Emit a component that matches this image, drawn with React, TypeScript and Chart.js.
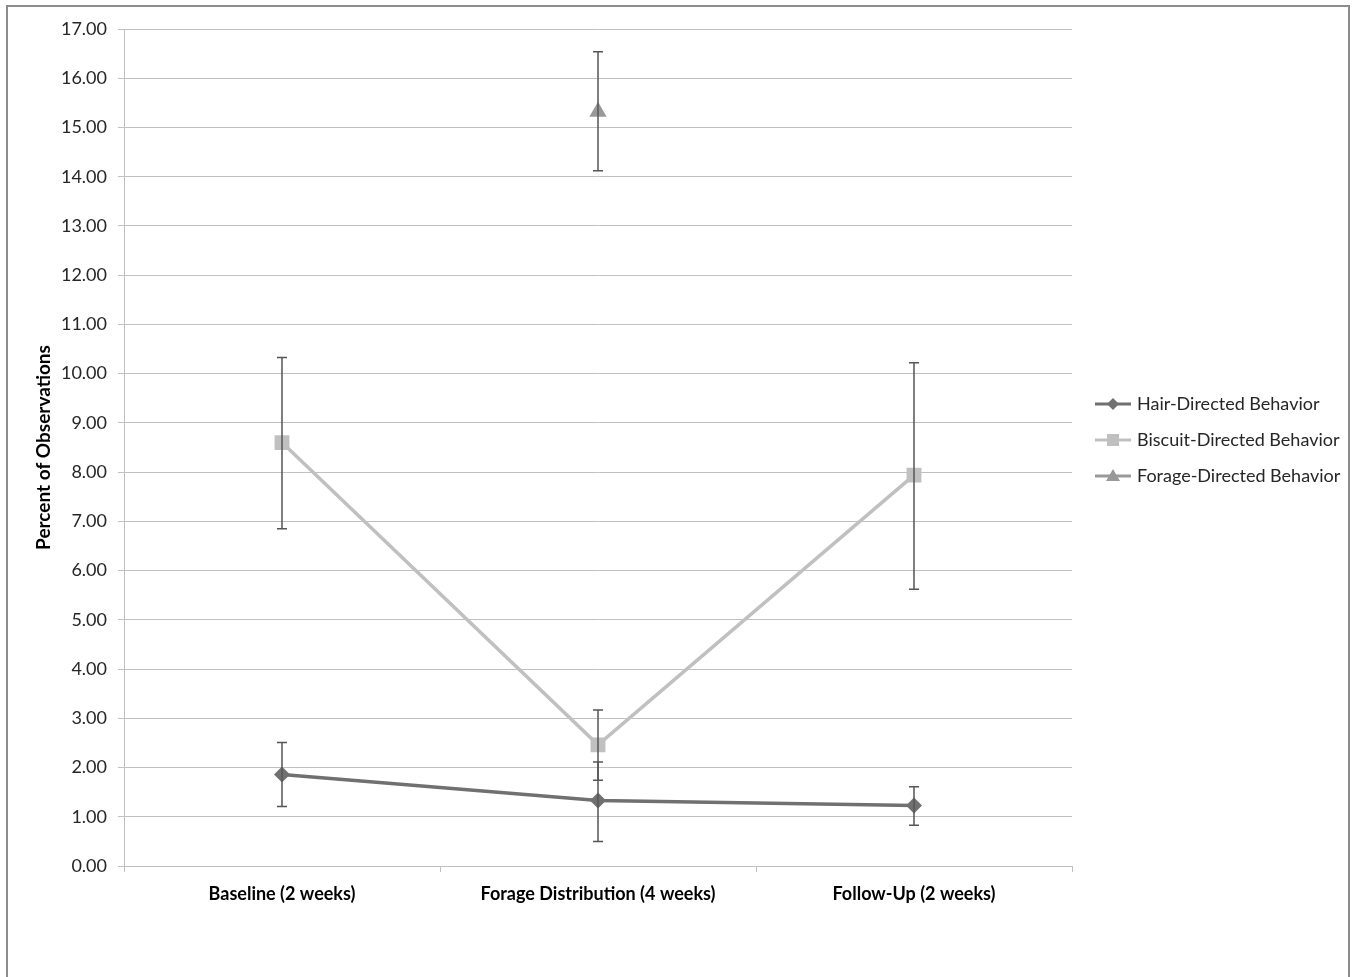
import React, { useEffect, useRef } from 'react';
import { Chart, registerables } from 'chart.js';

Chart.register(...registerables);

const categories = ['Baseline (2 weeks)', 'Forage Distribution (4 weeks)', 'Follow-Up (2 weeks)'];
const seriesNames = ['Hair-Directed Behavior', 'Biscuit-Directed Behavior', 'Forage-Directed Behavior'];

const hairValues = [1.86, 1.33, 1.23];
const hairErrPlus = [0.65, 0.78, 0.38];
const hairErrMinus = [0.65, 0.83, 0.4];

const biscuitValues = [8.6, 2.46, 7.94];
const biscuitErrPlus = [1.73, 0.71, 2.28];
const biscuitErrMinus = [1.75, 0.72, 2.32];

const forageValues: (number | null)[] = [null, 15.32, null];
const forageErrPlus: (number | null)[] = [null, 1.22, null];
const forageErrMinus: (number | null)[] = [null, 1.2, null];

const yMin = 0;
const yMax = 17;
const yStep = 1;
const yTitle = 'Percent of Observations';

const FONT = 'Lato, "Open Sans", sans-serif';

const errorSets = [
  { plus: hairErrPlus, minus: hairErrMinus },
  { plus: biscuitErrPlus, minus: biscuitErrMinus },
  { plus: forageErrPlus, minus: forageErrMinus },
];

const framePlugin = {
  id: 'frame',
  beforeDraw(chart: any) {
    const ctx = chart.ctx;
    ctx.save();
    ctx.fillStyle = '#ffffff';
    ctx.fillRect(0, 0, chart.width, chart.height);
    ctx.strokeStyle = '#8c8c8c';
    ctx.lineWidth = 2;
    ctx.strokeRect(7, 6, 1342, 1010);
    ctx.restore();
  },
};

const errorBarPlugin = {
  id: 'errorBars',
  afterDatasetsDraw(chart: any) {
    const ctx = chart.ctx;
    const x = chart.scales.x;
    const y = chart.scales.y;
    ctx.save();
    ctx.strokeStyle = '#555555';
    ctx.lineWidth = 1.5;
    chart.data.datasets.forEach((ds: any, di: number) => {
      const errs = errorSets[di];
      ds.data.forEach((v: number | null, i: number) => {
        if (v == null) return;
        const p = errs.plus[i];
        const m = errs.minus[i];
        if (p == null || m == null) return;
        const px = x.getPixelForValue(i);
        const top = y.getPixelForValue(v + p);
        const bot = y.getPixelForValue(v - m);
        ctx.beginPath();
        ctx.moveTo(px, top);
        ctx.lineTo(px, bot);
        ctx.moveTo(px - 5, top);
        ctx.lineTo(px + 5, top);
        ctx.moveTo(px - 5, bot);
        ctx.lineTo(px + 5, bot);
        ctx.stroke();
      });
    });
    ctx.restore();
  },
};

const legendPlugin = {
  id: 'customLegend',
  afterDraw(chart: any) {
    const ctx = chart.ctx;
    const x0 = 1095;
    const y0 = 404;
    const rowGap = 36;
    ctx.save();
    chart.data.datasets.forEach((ds: any, i: number) => {
      const yy = y0 + i * rowGap;
      ctx.strokeStyle = ds.borderColor;
      ctx.lineWidth = 3;
      ctx.beginPath();
      ctx.moveTo(x0, yy);
      ctx.lineTo(x0 + 36, yy);
      ctx.stroke();
      ctx.fillStyle = ds.pointBackgroundColor;
      ctx.beginPath();
      const cx = x0 + 18;
      if (ds.pointStyle === 'rectRot') {
        ctx.moveTo(cx, yy - 6);
        ctx.lineTo(cx + 6, yy);
        ctx.lineTo(cx, yy + 6);
        ctx.lineTo(cx - 6, yy);
      } else if (ds.pointStyle === 'rect') {
        ctx.rect(cx - 6, yy - 6, 12, 12);
      } else {
        ctx.moveTo(cx, yy - 7);
        ctx.lineTo(cx + 7, yy + 5);
        ctx.lineTo(cx - 7, yy + 5);
      }
      ctx.closePath();
      ctx.fill();
      ctx.fillStyle = '#262626';
      ctx.font = `18px ${FONT}`;
      ctx.textBaseline = 'middle';
      ctx.textAlign = 'left';
      ctx.fillText(ds.label, x0 + 42, yy);
    });
    ctx.restore();
  },
};

export default function App() {
  const ref = useRef<HTMLCanvasElement | null>(null);

  useEffect(() => {
    if (!ref.current) return;
    const chart = new Chart(ref.current, {
      type: 'line',
      data: {
        labels: categories,
        datasets: [
          {
            label: seriesNames[0],
            data: hairValues,
            borderColor: '#707070',
            backgroundColor: '#707070',
            pointBackgroundColor: '#707070',
            pointBorderColor: '#707070',
            borderWidth: 3.5,
            pointStyle: 'rectRot',
            pointRadius: 8,
            pointBorderWidth: 0,
            tension: 0,
          },
          {
            label: seriesNames[1],
            data: biscuitValues,
            borderColor: '#c0c0c0',
            backgroundColor: '#c0c0c0',
            pointBackgroundColor: '#c0c0c0',
            pointBorderColor: '#c0c0c0',
            borderWidth: 3.5,
            pointStyle: 'rect',
            pointRadius: 10.5,
            pointBorderWidth: 0,
            tension: 0,
          },
          {
            label: seriesNames[2],
            data: forageValues,
            borderColor: '#999999',
            backgroundColor: '#999999',
            pointBackgroundColor: '#999999',
            pointBorderColor: '#999999',
            borderWidth: 3.5,
            pointStyle: 'triangle',
            pointRadius: 10,
            pointBorderWidth: 0,
            tension: 0,
          },
        ],
      },
      options: {
        animation: false,
        responsive: false,
        layout: { padding: { left: 0, top: 29, right: 285, bottom: 0 } },
        plugins: {
          legend: { display: false },
          tooltip: { enabled: false },
          title: { display: false },
        },
        scales: {
          x: {
            offset: true,
            grid: {
              offset: true,
              drawOnChartArea: false,
              drawTicks: true,
              tickLength: 6,
              color: '#bfbfbf',
            },
            border: { color: '#bfbfbf', width: 1 },
            ticks: {
              color: '#000000',
              font: { family: FONT, size: 18, weight: 'bold' },
              padding: 11,
              maxRotation: 0,
            },
            afterFit(s: any) {
              s.height = 111;
            },
          },
          y: {
            min: yMin,
            max: yMax,
            grid: {
              color: '#c0c0c0',
              lineWidth: 1,
              drawTicks: true,
              tickLength: 6,
            },
            border: { color: '#bfbfbf', width: 1 },
            ticks: {
              stepSize: yStep,
              color: '#262626',
              font: { family: FONT, size: 18 },
              padding: 11,
              callback: (v: any) => Number(v).toFixed(2),
            },
            title: {
              display: true,
              text: yTitle,
              color: '#000000',
              font: { family: FONT, size: 19, weight: 'bold' },
              padding: { top: 32, bottom: 0 },
            },
            afterFit(s: any) {
              s.width = 124;
            },
          },
        },
      },
      plugins: [framePlugin, errorBarPlugin, legendPlugin],
    } as any);
    return () => chart.destroy();
  }, []);

  return (
    <div style={{ position: 'fixed', left: 0, top: 0, width: 1357, height: 977, background: '#fff' }}>
      <canvas ref={ref} width={1357} height={977} style={{ display: 'block' }} />
    </div>
  );
}
